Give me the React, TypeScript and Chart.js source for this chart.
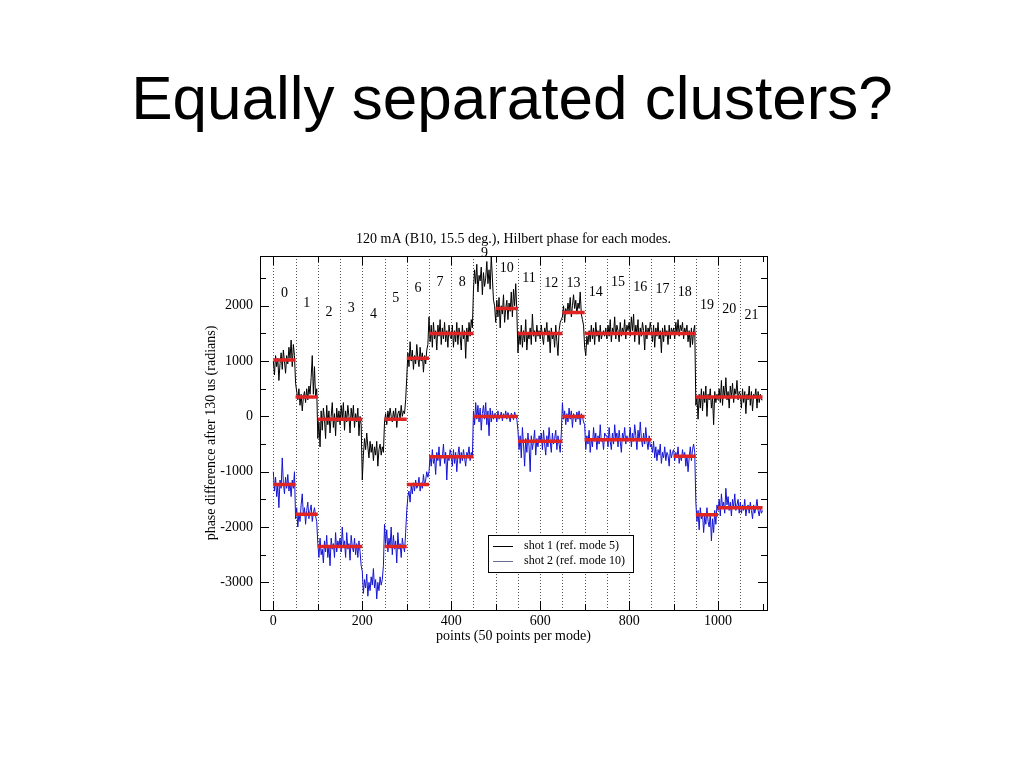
import React, { useEffect, useRef } from "react";
import { Chart, registerables } from "chart.js";
Chart.register(...registerables);

// ---------- text ----------
const slideTitle = "Equally separated clusters?";
const chartTitle = "120 mA (B10, 15.5 deg.), Hilbert phase for each modes.";
const xAxisTitle = "points (50 points per mode)";
const yAxisTitle = "phase difference after 130 us (radians)";
const seriesNames = ["shot 1 (ref. mode 5)", "shot 2 (ref. mode 10)"];

// ---------- axes ----------
const xTickLabels = [0, 200, 400, 600, 800, 1000];
const yTickLabels = [-3000, -2000, -1000, 0, 1000, 2000];
const xMinorTicks = [0, 100, 200, 300, 400, 500, 600, 700, 800, 900, 1000, 1100];
const yMinorTicks = [-3500, -3000, -2500, -2000, -1500, -1000, -500, 0, 500, 1000, 1500, 2000, 2500];
const modeBoundaries = [0, 50, 100, 150, 200, 250, 300, 350, 400, 450, 500, 550, 600, 650, 700, 750, 800, 850, 900, 950, 1000, 1050];

// ---------- mode labels (number, label height in radians) ----------
const modeNumbers = [0, 1, 2, 3, 4, 5, 6, 7, 8, 9, 10, 11, 12, 13, 14, 15, 16, 17, 18, 19, 20, 21];
const modeLabelHeights = [2217, 2036, 1873, 1946, 1837, 2127, 2308, 2417, 2417, 2950, 2670, 2489, 2399, 2399, 2235, 2417, 2326, 2290, 2235, 2000, 1928, 1819];

// ---------- shot 1 (black), 20 samples per mode, one row per mode ----------
const shot1 = [
  [1000, 750, 1100, 900, 1050, 650, 950, 1150, 850, 1200, 1000, 780, 1100, 950, 1250, 1050, 1380, 900, 1300, 1100],
  [600, 450, 300, 500, 200, 400, 100, 350, 450, 250, 500, 300, 550, 400, 700, 1100, 400, 900, 350, 500],
  [-400, -100, -550, 100, -250, 150, -50, -400, 200, -150, 100, -300, 0, 250, -200, 50, -350, 150, -100, 100],
  [-150, 200, -50, 250, -250, 100, -100, 200, 0, -300, 150, -50, 200, -200, 50, -100, 150, -350, 0, -150],
  [-1150, -700, -400, -600, -300, -550, -750, -450, -650, -500, -800, -550, -700, -450, -900, -600, -500, -700, -550, -650],
  [-100, 50, -150, 100, -50, 150, 0, -100, 100, -50, 150, -200, 50, 100, -50, 200, 0, 100, 50, 300],
  [700, 1150, 900, 1350, 1000, 1200, 850, 1100, 950, 1300, 1050, 900, 1250, 1000, 1150, 800, 1100, 950, 1200, 1300],
  [1800, 1350, 1650, 1250, 1700, 1400, 1550, 1200, 1650, 1450, 1750, 1300, 1600, 1400, 1700, 1350, 1550, 1250, 1650, 1450],
  [1400, 1650, 1250, 1550, 1350, 1700, 1300, 1600, 1450, 1200, 1650, 1400, 1550, 1050, 1600, 1350, 1700, 1450, 1750, 1600],
  [2300, 2650, 2400, 2750, 2250, 2550, 2450, 2700, 2200, 2600, 2350, 2500, 2800, 2400, 2650, 2300, 2900, 2500, 2100, 2000],
  [1700, 2100, 1800, 2150, 1600, 2000, 1850, 2200, 1700, 1950, 2100, 1750, 2050, 1900, 2250, 1800, 2300, 2000, 2400, 1900],
  [1150, 1500, 1300, 1650, 1250, 1550, 1350, 1750, 1200, 1500, 1400, 1600, 1300, 1850, 1450, 1550, 1350, 1650, 1450, 1550],
  [1400, 1650, 1450, 1300, 1600, 1500, 1700, 1350, 1550, 1150, 1600, 1400, 1500, 1250, 1650, 1350, 1100, 1550, 1700, 1750],
  [1800, 2000, 1700, 1950, 1850, 2050, 1900, 2150, 1800, 2000, 2200, 1950, 2100, 1850, 2050, 1950, 2250, 1850, 1750, 1650],
  [1250, 1100, 1450, 1300, 1550, 1350, 1650, 1400, 1600, 1300, 1700, 1450, 1550, 1350, 1650, 1400, 1500, 1550, 1450, 1600],
  [1400, 1650, 1450, 1750, 1350, 1600, 1500, 1800, 1400, 1650, 1550, 1350, 1700, 1450, 1600, 1500, 1750, 1400, 1650, 1550],
  [1700, 1450, 1800, 1550, 1850, 1350, 1650, 1500, 1750, 1300, 1600, 1450, 1700, 1550, 1200, 1650, 1400, 1600, 1500, 1700],
  [1550, 1350, 1650, 1250, 1600, 1450, 1700, 1400, 1550, 1150, 1600, 1350, 1650, 1450, 1550, 1300, 1650, 1400, 1600, 1500],
  [1600, 1400, 1700, 1500, 1750, 1450, 1650, 1550, 1700, 1400, 1600, 1500, 1650, 1350, 1550, 1250, 1600, 1300, 1550, 1650],
  [200, 350, -50, 400, 150, 500, 100, 450, 250, 550, 0, 400, 300, 500, 150, 350, -150, 450, 250, 400],
  [300, 500, 250, 650, 200, 550, 350, 700, 300, 450, 150, 550, 350, 600, 250, 500, 400, 650, 300, 450],
  [400, 150, 500, 250, 450, 50, 400, 300, 550, 200, 450, 100, 400, 350, 500, 150, 450, 250, 400, 300],
];
const shot1Last = 300;

// ---------- shot 2 (blue) ----------
const shot2 = [
  [-1000, -1350, -1100, -1450, -1250, -1650, -1150, -1300, -750, -1200, -1400, -1100, -1300, -1050, -1350, -1200, -1450, -1150, -1300, -1000],
  [-1850, -1650, -2000, -1750, -1900, -1600, -1400, -1800, -1650, -1950, -1700, -1550, -1850, -1700, -1600, -1900, -1750, -1650, -1800, -1900],
  [-2300, -2550, -2200, -2500, -2400, -2650, -2250, -2450, -2150, -2550, -2350, -2700, -2200, -2400, -2300, -2550, -2100, -2450, -2250, -2350],
  [-2200, -2450, -2000, -2350, -2250, -2550, -2100, -2400, -2300, -2600, -2150, -2350, -2450, -2200, -2500, -2300, -2550, -2250, -2450, -2700],
  [-2800, -3200, -2950, -3100, -2850, -3250, -3000, -3150, -2900, -3050, -2750, -3100, -2950, -3300, -3000, -3150, -2900, -3050, -2950, -2700],
  [-1950, -2300, -2050, -2450, -2200, -2350, -2000, -2500, -2150, -2400, -2250, -2650, -2100, -2400, -2300, -2550, -2200, -2350, -2450, -2100],
  [-1700, -1450, -1350, -1550, -1250, -1400, -1200, -1350, -1150, -1300, -1250, -1100, -1350, -1200, -1300, -1050, -1250, -1150, -1000, -1100],
  [-1000, -700, -900, -600, -850, -750, -1050, -650, -800, -550, -900, -700, -750, -500, -850, -650, -1150, -700, -800, -600],
  [-700, -900, -600, -850, -650, -1000, -700, -550, -850, -650, -800, -600, -750, -900, -650, -700, -550, -800, -650, -750],
  [100, -150, 250, -50, 200, -100, 150, -250, 50, 200, -50, 250, -150, 100, -350, 150, -100, 100, -50, 50],
  [50, -100, 100, -50, 0, 80, -80, 50, -30, 100, -50, 70, 0, -100, 60, 20, -60, 80, 0, -50],
  [-250, -600, -350, -750, -200, -500, -900, -400, -650, -300, -550, -1000, -350, -600, -450, -250, -700, -400, -550, -350],
  [-450, -300, -600, -250, -500, -700, -350, -550, -200, -450, -650, -300, -500, -400, -250, -600, -350, -500, -650, -300],
  [250, -50, 100, -150, 50, -100, 150, -50, 100, -200, 50, 0, -100, 80, -50, 100, -150, 50, 0, -100],
  [-150, -600, -350, -500, -250, -650, -400, -550, -200, -450, -300, -600, -350, -500, -150, -450, -400, -600, -300, -350],
  [-350, -550, -200, -450, -600, -300, -500, -150, -400, -300, -550, -250, -450, -650, -300, -400, -200, -500, -350, -450],
  [-400, -200, -550, -300, -450, -150, -350, -600, -250, -450, -100, -400, -550, -300, -500, -200, -450, -600, -350, -550],
  [-500, -650, -450, -750, -550, -800, -600, -700, -500, -850, -650, -750, -550, -800, -650, -700, -900, -600, -750, -650],
  [-600, -800, -650, -750, -550, -850, -700, -800, -600, -750, -650, -900, -700, -1000, -750, -550, -800, -600, -500, -650],
  [-1550, -1900, -1700, -2050, -1650, -1850, -1750, -2100, -1800, -1950, -1650, -1900, -2000, -1750, -2250, -1850, -2100, -1700, -1950, -1600],
  [-1700, -1500, -1800, -1400, -1650, -1550, -1750, -1300, -1600, -1450, -1700, -1550, -1800, -1500, -1650, -1400, -1700, -1600, -1500, -1750],
  [-1550, -1750, -1600, -1700, -1500, -1800, -1650, -1600, -1750, -1550, -1700, -1850, -1600, -1750, -1650, -1500, -1700, -1800, -1650, -1750],
];
const shot2Last = -1700;

// ---------- cluster means: [start point, end point, value] ----------
const shot1Means = [
  [0, 50, 1020], [50, 100, 350], [100, 200, -50], [250, 300, -50], [300, 350, 1050],
  [350, 450, 1500], [500, 550, 1950], [550, 650, 1500], [650, 700, 1880], [700, 950, 1500],
  [950, 1100, 350],
];
const shot2Means = [
  [0, 50, -1230], [50, 100, -1770], [100, 200, -2350], [250, 300, -2350], [300, 350, -1230],
  [350, 450, -730], [450, 550, 0], [550, 650, -450], [650, 700, 0], [700, 850, -420],
  [900, 950, -720], [950, 1000, -1780], [1000, 1100, -1650],
];

const POINTS_PER_MODE = 50;
const FINAL_POINT = 1100;

function buildSeries(rows: number[][], last: number) {
  const out: { x: number; y: number }[] = [];
  rows.forEach((row, m) => {
    const step = POINTS_PER_MODE / row.length;
    row.forEach((v, i) => out.push({ x: m * POINTS_PER_MODE + i * step, y: v }));
  });
  out.push({ x: FINAL_POINT, y: last });
  return out;
}

function buildMeans(segs: number[][]) {
  const out: { x: number; y: number | null }[] = [];
  segs.forEach(([a, b, v]) => {
    out.push({ x: a, y: v }, { x: b, y: v }, { x: b, y: null });
  });
  return out;
}

const SERIF = '"Liberation Serif", "DejaVu Serif", serif';
const SANS = '"Liberation Sans", Arial, sans-serif';
const BLUE = "#1414d2";
const RED = "#e02424";

const decorations = {
  id: "decorations",
  beforeDatasetsDraw(chart: any) {
    const { ctx, chartArea: a, scales } = chart;
    const x = scales.x;
    ctx.save();
    ctx.strokeStyle = "#555";
    ctx.lineWidth = 1;
    ctx.setLineDash([1, 2]);
    modeBoundaries.forEach((v) => {
      const px = Math.round(x.getPixelForValue(v)) + 0.5;
      ctx.beginPath();
      ctx.moveTo(px, a.top);
      ctx.lineTo(px, a.bottom);
      ctx.stroke();
    });
    ctx.restore();
  },
  afterDatasetsDraw(chart: any) {
    const { ctx, chartArea: a, scales } = chart;
    const x = scales.x;
    const y = scales.y;
    ctx.save();
    ctx.strokeStyle = "#000";
    ctx.lineWidth = 1;
    ctx.setLineDash([]);
    ctx.strokeRect(Math.round(a.left) + 0.5, Math.round(a.top) + 0.5, Math.round(a.right - a.left), Math.round(a.bottom - a.top));
    const line = (x0: number, y0: number, x1: number, y1: number) => {
      ctx.beginPath();
      ctx.moveTo(x0, y0);
      ctx.lineTo(x1, y1);
      ctx.stroke();
    };
    xMinorTicks.forEach((v) => {
      const len = xTickLabels.includes(v) ? 9 : 6;
      const px = Math.round(x.getPixelForValue(v)) + 0.5;
      line(px, a.bottom, px, a.bottom - len);
      line(px, a.top, px, a.top + len);
    });
    yMinorTicks.forEach((v) => {
      const len = yTickLabels.includes(v) ? 9 : 6;
      const py = Math.round(y.getPixelForValue(v)) + 0.5;
      line(a.left, py, a.left + len, py);
      line(a.right, py, a.right - len, py);
    });
    ctx.restore();
  },
  afterDraw(chart: any) {
    const { ctx, chartArea: a, scales } = chart;
    const x = scales.x;
    const y = scales.y;
    ctx.save();
    ctx.fillStyle = "#000";
    // slide title
    ctx.font = `62px ${SANS}`;
    ctx.textAlign = "center";
    ctx.textBaseline = "alphabetic";
    ctx.fillText(slideTitle, 512, 119);
    // chart title
    ctx.font = `14px ${SERIF}`;
    ctx.textBaseline = "middle";
    ctx.fillText(chartTitle, (a.left + a.right) / 2, a.top - 17);
    // mode labels
    modeNumbers.forEach((n, i) => {
      ctx.fillText(String(n), x.getPixelForValue(n * POINTS_PER_MODE + POINTS_PER_MODE / 2), y.getPixelForValue(modeLabelHeights[i]));
    });
    // legend
    const lx = a.left + 228;
    const ly = a.top + 279;
    ctx.fillStyle = "#fff";
    ctx.fillRect(lx + 0.5, ly + 0.5, 145, 37);
    ctx.strokeStyle = "#000";
    ctx.lineWidth = 1;
    ctx.strokeRect(lx + 0.5, ly + 0.5, 145, 37);
    const colors = ["#000", "#6a6a90"];
    seriesNames.forEach((name, i) => {
      const yy = ly + 11 + i * 15;
      ctx.strokeStyle = colors[i];
      ctx.beginPath();
      ctx.moveTo(lx + 5, yy + 0.5);
      ctx.lineTo(lx + 25, yy + 0.5);
      ctx.stroke();
      ctx.fillStyle = "#000";
      ctx.font = `12px ${SERIF}`;
      ctx.textAlign = "left";
      ctx.fillText(name, lx + 36, yy);
    });
    ctx.restore();
  },
};

export default function App() {
  const ref = useRef<HTMLCanvasElement>(null);
  useEffect(() => {
    if (!ref.current) return;
    const chart = new Chart(ref.current, {
      type: "line",
      data: {
        datasets: [
          { label: seriesNames[0], data: buildSeries(shot1, shot1Last), borderColor: "#000", borderWidth: 1, pointRadius: 0, tension: 0, order: 2 },
          { label: seriesNames[1], data: buildSeries(shot2, shot2Last), borderColor: BLUE, borderWidth: 1, pointRadius: 0, tension: 0, order: 1 },
          { label: "mean 1", data: buildMeans(shot1Means), borderColor: RED, borderWidth: 3.5, pointRadius: 0, spanGaps: false, order: 0 },
          { label: "mean 2", data: buildMeans(shot2Means), borderColor: RED, borderWidth: 3.5, pointRadius: 0, spanGaps: false, order: 0 },
        ],
      },
      options: {
        responsive: false,
        animation: false,
        devicePixelRatio: 1,
        layout: { padding: { left: 200, right: 257, top: 256, bottom: 108 } },
        plugins: { legend: { display: false }, tooltip: { enabled: false }, title: { display: false } },
        scales: {
          x: {
            type: "linear",
            min: -30,
            max: 1110,
            afterBuildTicks: (s: any) => { s.ticks = xTickLabels.map((v) => ({ value: v })); },
            afterFit: (s: any) => { s.height = 50; },
            grid: { display: false, drawTicks: false },
            border: { display: false },
            ticks: { color: "#000", font: { family: SERIF, size: 14 }, padding: 3, maxRotation: 0, autoSkip: false, callback: (v: any) => String(v) },
            title: { display: true, text: xAxisTitle, color: "#000", font: { family: SERIF, size: 14 }, padding: { top: 0, bottom: 15 } },
          },
          y: {
            type: "linear",
            min: -3500,
            max: 2900,
            afterBuildTicks: (s: any) => { s.ticks = yTickLabels.map((v) => ({ value: v })); },
            afterFit: (s: any) => { s.width = 60; },
            grid: { display: false, drawTicks: false },
            border: { display: false },
            ticks: { color: "#000", font: { family: SERIF, size: 14 }, padding: 7, autoSkip: false, callback: (v: any) => String(v) },
            title: { display: true, text: yAxisTitle, color: "#000", font: { family: SERIF, size: 14 }, padding: { top: 3, bottom: 0 } },
          },
        },
      },
      plugins: [decorations],
    });
    return () => chart.destroy();
  }, []);
  return (
    <div style={{ position: "absolute", left: 0, top: 0, width: 1024, height: 768, background: "#fff" }}>
      <canvas ref={ref} width={1024} height={768} style={{ display: "block" }} />
    </div>
  );
}
